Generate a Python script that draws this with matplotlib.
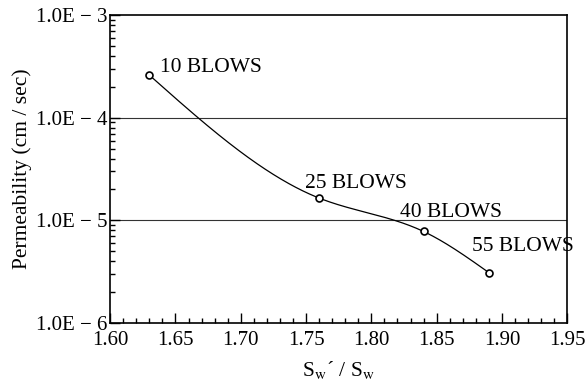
import numpy as np
import matplotlib
matplotlib.use('Agg')
import matplotlib.pyplot as plt
from matplotlib.ticker import LogLocator, FixedLocator, MultipleLocator, FuncFormatter, NullFormatter

plt.rcParams['font.family'] = ['Liberation Serif', 'DejaVu Serif']
plt.rcParams['mathtext.fontset'] = 'stix'

# data
ratio = [1.63, 1.76, 1.84, 1.89]
permeability = [2.6e-4, 1.65e-5, 7.8e-6, 3.1e-6]
labels = ['10 BLOWS', '25 BLOWS', '40 BLOWS', '55 BLOWS']
label_offsets = [(8, -1), (-10, 4), (-17, 7), (-12, 12)]
xticks = [1.60, 1.65, 1.70, 1.75, 1.80, 1.85, 1.90, 1.95]
yticks = [1e-6, 1e-5, 1e-4, 1e-3]


def natural_spline(x, y, xs):
    # natural cubic spline, used only to draw the smooth curve
    x = np.asarray(x, float)
    y = np.asarray(y, float)
    n = len(x)
    h = np.diff(x)
    A = np.zeros((n, n))
    b = np.zeros(n)
    A[0, 0] = A[-1, -1] = 1
    for i in range(1, n - 1):
        A[i, i - 1] = h[i - 1]
        A[i, i] = 2 * (h[i - 1] + h[i])
        A[i, i + 1] = h[i]
        b[i] = 6 * ((y[i + 1] - y[i]) / h[i] - (y[i] - y[i - 1]) / h[i - 1])
    m = np.linalg.solve(A, b)
    out = np.empty_like(xs)
    for k, xv in enumerate(xs):
        i = min(max(np.searchsorted(x, xv) - 1, 0), n - 2)
        t0 = x[i + 1] - xv
        t1 = xv - x[i]
        out[k] = (m[i] * t0 ** 3 + m[i + 1] * t1 ** 3) / (6 * h[i]) \
            + (y[i] / h[i] - m[i] * h[i] / 6) * t0 \
            + (y[i + 1] / h[i] - m[i + 1] * h[i] / 6) * t1
    return out


fig = plt.figure(figsize=(5.86, 3.86), dpi=100)
ax = fig.add_axes([0.188, 0.163, 0.780, 0.798])

xs = np.linspace(ratio[0], ratio[-1], 300)
ys = 10 ** natural_spline(ratio, np.log10(permeability), xs)
ax.plot(xs, ys, color='black', lw=0.9)
ax.plot(ratio, permeability, 'o', mfc='white', mec='black', mew=1.2, ms=5)

for x, y, lab, off in zip(ratio, permeability, labels, label_offsets):
    ax.annotate(lab, (x, y), xytext=off, textcoords='offset points',
                fontsize=15.5, ha='left', va='bottom')

ax.set_yscale('log')
ax.set_xlim(1.60, 1.95)
ax.set_ylim(1e-6, 1e-3)

for v in (1e-4, 1e-5):
    ax.axhline(v, color='#333333', lw=0.8, zorder=0)

ax.xaxis.set_major_locator(FixedLocator(xticks))
ax.xaxis.set_minor_locator(MultipleLocator(0.01))
ax.xaxis.set_major_formatter(FuncFormatter(lambda v, p: f'{v:.2f}'))
ax.yaxis.set_major_locator(FixedLocator(yticks))
ax.yaxis.set_minor_locator(LogLocator(base=10, subs=np.arange(2, 10)))
ax.yaxis.set_minor_formatter(NullFormatter())
ax.yaxis.set_major_formatter(FuncFormatter(
    lambda v, p: '1.0E \u2212 %d' % round(-np.log10(v))))

ax.tick_params(which='both', direction='in', top=False, right=False,
               labelsize=15, color='black')
ax.tick_params(which='major', length=7, width=1)
ax.tick_params(which='minor', length=3.5, width=1)
ax.tick_params(axis='y', pad=2)
ax.tick_params(axis='x', pad=6)

for s in ax.spines.values():
    s.set_linewidth(1.2)

ax.set_ylabel('Permeability (cm / sec)', fontsize=15.5, labelpad=3)
ax.set_xlabel('S$_{\\mathrm{w}}$\u00b4 / S$_{\\mathrm{w}}$',
              fontsize=15.5, labelpad=6)

fig.savefig('out.png', dpi=100)
